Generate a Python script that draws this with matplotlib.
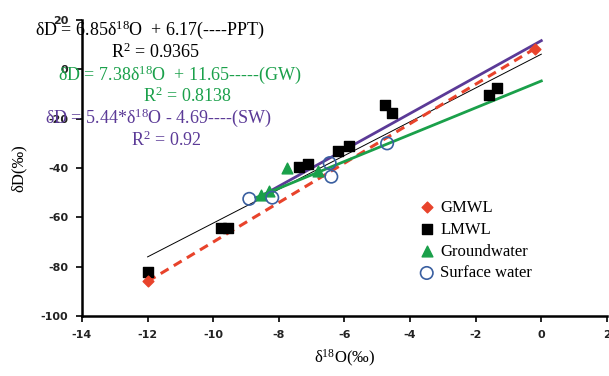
import matplotlib
matplotlib.use("Agg")
import matplotlib.pyplot as plt
import numpy as np

plt.rcParams["mathtext.fontset"] = "custom"
plt.rcParams["mathtext.rm"] = "Liberation Serif"
plt.rcParams["mathtext.it"] = "Liberation Serif:italic"
plt.rcParams["mathtext.bf"] = "Liberation Serif:bold"

# Data
gmwl_x = [-12.0, -0.2]
gmwl_y = [-86.0, 8.4]
lmwl_x = [-12.0, -9.75, -9.55, -7.4, -7.1, -6.2, -5.85, -4.75, -4.55, -1.6, -1.35]
lmwl_y = [-82.0, -64.5, -64.5, -39.5, -38.5, -33.0, -31.0, -14.5, -17.5, -10.5, -7.5]
gw_x = [-7.75, -8.3, -8.55, -6.8]
gw_y = [-40.0, -49.5, -51.0, -41.0]
sw_x = [-8.9, -8.2, -6.4, -6.45, -4.7]
sw_y = [-52.5, -52.0, -43.5, -38.0, -30.0]

# fitted lines: (slope, intercept, x_start, x_end)
gmwl_line = (8.0, 10.0, -12.0, -0.2)
ppt_line = (6.85, 6.17, -12.0, 0.0)
purple_line = (7.38, 11.65, -8.6, 0.0)
green_line = (5.44, -4.69, -8.7, 0.0)

xticks = [-14, -12, -10, -8, -6, -4, -2, 0, 2]
yticks = [-100, -80, -60, -40, -20, 0, 20]

serif = "Liberation Serif"
green_c = "#1aa04a"
purple_c = "#5b3a97"
red_c = "#e8432b"
blue_c = "#3a5fa0"

fig = plt.figure(figsize=(6.09, 3.76), dpi=100)
ax = fig.add_axes([0.1346, 0.1596, 0.862, 0.787])

def draw_line(p, **kw):
    s, b, x0, x1 = p
    xs = np.array([x0, x1])
    ax.plot(xs, s * xs + b, **kw)

draw_line(ppt_line, color="black", lw=0.7, zorder=2)
draw_line(gmwl_line, color=red_c, lw=2.2, ls=(0, (3, 2)), zorder=3)
draw_line(purple_line, color=purple_c, lw=2.0, zorder=3)
draw_line(green_line, color=green_c, lw=2.0, zorder=3)

ax.scatter(gmwl_x, gmwl_y, marker="D", s=30, color=red_c, zorder=5, label="GMWL")
ax.scatter(lmwl_x, lmwl_y, marker="s", s=55, color="black", zorder=4, label="LMWL")
ax.scatter(gw_x, gw_y, marker="^", s=60, color=green_c, zorder=5, label="Groundwater")
ax.scatter(sw_x, sw_y, marker="o", s=80, facecolors="none", edgecolors=blue_c,
           linewidths=1.2, zorder=5, label="Surface water")

ax.set_xlim(-14, 2)
ax.set_ylim(-100, 20)
ax.set_xticks(xticks)
ax.set_yticks(yticks)
ax.set_xticklabels([str(t) for t in xticks])
ax.set_yticklabels([str(t) for t in yticks])
for lab in ax.get_xticklabels() + ax.get_yticklabels():
    lab.set_fontweight("bold")
    lab.set_fontsize(8)
    lab.set_color("#222222")
ax.tick_params(direction="out", length=4, width=1.2, pad=6)
for s in ["top", "right"]:
    ax.spines[s].set_visible(False)
for s in ["left", "bottom"]:
    ax.spines[s].set_linewidth(1.8)

ax.set_xlabel("δ$^{18}$O(‰)", fontsize=12, family=serif, labelpad=6)
ax.set_ylabel("δD(‰)", fontsize=12, family=serif, labelpad=10)

leg = ax.legend(loc="upper left", bbox_to_anchor=(0.625, 0.415), frameon=False,
                prop={"family": serif, "size": 12}, handletextpad=0.2,
                labelspacing=0.35, borderaxespad=0, scatterpoints=1,
                handlelength=1.2)

fs = 13
fig.text(35/609, 1-30/376, "δD = 6.85δ$^{18}$O  + 6.17(----PPT)", family=serif,
         fontsize=fs, color="black", va="center", ha="left")
fig.text(155/609, 1-52/376, "R$^{2}$ = 0.9365", family=serif, fontsize=fs,
         color="black", va="center", ha="center")
fig.text(58/609, 1-75/376, "δD = 7.38δ$^{18}$O  + 11.65-----(GW)", family=serif,
         fontsize=fs, color=green_c, va="center", ha="left")
fig.text(187/609, 1-96/376, "R$^{2}$ = 0.8138", family=serif, fontsize=fs,
         color=green_c, va="center", ha="center")
fig.text(45/609, 1-118/376, "δD = 5.44*δ$^{18}$O - 4.69----(SW)", family=serif,
         fontsize=fs, color=purple_c, va="center", ha="left")
fig.text(166/609, 1-140/376, "R$^{2}$ = 0.92", family=serif, fontsize=fs,
         color=purple_c, va="center", ha="center")

fig.savefig("out.png", dpi=100)
